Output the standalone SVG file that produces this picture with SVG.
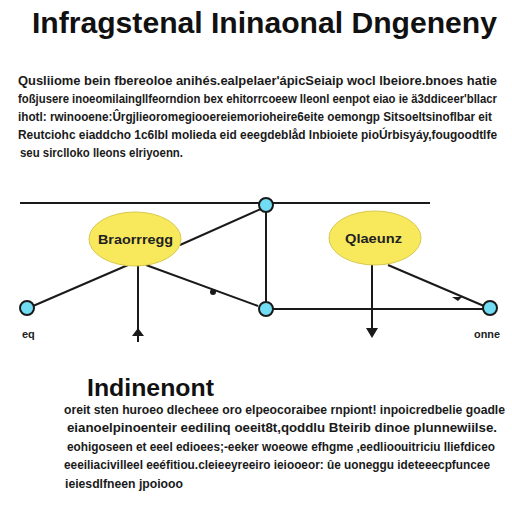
<svg xmlns="http://www.w3.org/2000/svg" width="512" height="512" viewBox="0 0 512 512">
<style>
.title{font-family:"Liberation Sans",Arial,sans-serif;font-weight:bold;font-size:30px;fill:#111}
.h2{font-family:"Liberation Sans",Arial,sans-serif;font-weight:bold;font-size:24px;fill:#111}
.p{font-family:"Liberation Sans",Arial,sans-serif;font-weight:bold;font-size:10.5px;fill:#1a1a1a}
.lbl{font-family:"Liberation Sans",Arial,sans-serif;font-weight:bold;font-size:12px;fill:#222}
.small{font-family:"Liberation Sans",Arial,sans-serif;font-weight:bold;font-size:11px;fill:#222}
.edge{stroke:#1a1a1a;stroke-width:2;fill:none}
.node{fill:#72dcf2;stroke:#1a1a1a;stroke-width:2}
.ell{fill:#f8e95c;stroke:#d8c84c;stroke-width:1}
</style>
<rect width="512" height="512" fill="#ffffff"/>
<text class="title" x="32" y="33" textLength="465" lengthAdjust="spacingAndGlyphs">Infragstenal Ininaonal Dngeneny</text>
<g id="intro">
<text class="p" transform="translate(0,85) scale(1,1.3)" x="18" y="0" textLength="479" lengthAdjust="spacingAndGlyphs">Qusliiome bein fbereoloe anihés.ealpelaer'ápicSeiaip wocl lbeiore.bnoes hatie</text>
<text class="p" transform="translate(0,103) scale(1,1.3)" x="18" y="0" textLength="479" lengthAdjust="spacingAndGlyphs">foßjusere inoeomilaingllfeorndion bex ehitorrcoeew lleonl eenpot eiao ie ä3ddiceer'bllacr</text>
<text class="p" transform="translate(0,121) scale(1,1.3)" x="18" y="0" textLength="474" lengthAdjust="spacingAndGlyphs">ihotl: rwinooene:Ûrgjlieoromegiooereiemorioheire6eite oemongp Sitsoeltsinoflbar eit</text>
<text class="p" transform="translate(0,139) scale(1,1.3)" x="18" y="0" textLength="479" lengthAdjust="spacingAndGlyphs">Reutciohc eiaddcho 1c6lbl molieda eid  eeegdeblåd lnbioiete pioÚrbisyáy,fougoodtlfe</text>
<text class="p" transform="translate(0,157) scale(1,1.3)" x="20" y="0" textLength="163" lengthAdjust="spacingAndGlyphs">seu sirclloko lleons elriyoenn.</text>
</g>
<g id="connectors">
<line class="edge" x1="20" y1="203" x2="430" y2="203"/>
<line class="edge" x1="180" y1="245" x2="263" y2="208"/>
<line class="edge" x1="33" y1="306" x2="128" y2="265"/>
<line class="edge" x1="138" y1="265" x2="138" y2="342"/>
<polygon points="132,336 138,328 144,336" fill="#1a1a1a"/>
<line class="edge" x1="146" y1="265" x2="258" y2="306"/>
<circle cx="213" cy="292" r="3" fill="#1a1a1a"/>
<line class="edge" x1="266" y1="205" x2="266" y2="309"/>
<line class="edge" x1="266" y1="309" x2="490" y2="309"/>
<line class="edge" x1="372" y1="265" x2="372" y2="330"/>
<polygon points="366,328 378,328 372,338" fill="#1a1a1a"/>
<line class="edge" x1="388" y1="265" x2="484" y2="306"/>
<polygon points="452,297 462,297 458,301" fill="#1a1a1a"/>
</g>
<g id="node-ellipse1">
<ellipse class="ell" cx="135" cy="239" rx="46" ry="27"/>
<text class="lbl" x="98" y="244" textLength="75" lengthAdjust="spacingAndGlyphs">Braorrregg</text>
</g>
<g id="node-ellipse2">
<ellipse class="ell" cx="375" cy="238" rx="46" ry="27"/>
<text class="lbl" x="345" y="243" textLength="57" lengthAdjust="spacingAndGlyphs">Qlaeunz</text>
</g>
<g id="node-top"><circle class="node" cx="266" cy="205" r="7"/></g>
<g id="node-mid"><circle class="node" cx="266" cy="309" r="7"/></g>
<g id="node-left"><circle class="node" cx="27" cy="308" r="7"/><text class="small" x="22" y="338">eq</text></g>
<g id="node-right"><circle class="node" cx="490" cy="308" r="7"/><text class="small" x="474" y="338" textLength="26" lengthAdjust="spacingAndGlyphs">onne</text></g>
<g id="section">
<text class="h2" x="87" y="396" textLength="127" lengthAdjust="spacingAndGlyphs">Indinenont</text>
<text class="p" transform="translate(0,414) scale(1,1.3)" x="64" y="0" textLength="441" lengthAdjust="spacingAndGlyphs">oreit sten huroeo dlecheee oro  elpeocoraibee rnpiont! inpoicredbelie  goadle</text>
<text class="p" transform="translate(0,432) scale(1,1.3)" x="67" y="0" textLength="430" lengthAdjust="spacingAndGlyphs">eianoelpinoenteir eedilinq oeeit8t,qoddlu  Bteirib dinoe plunnewiilse.</text>
<text class="p" transform="translate(0,451) scale(1,1.3)" x="67" y="0" textLength="428" lengthAdjust="spacingAndGlyphs">eohigoseen et eeel edioees;-eeker woeowe efhgme ,eedlioouitriciu lliefdiceo</text>
<text class="p" transform="translate(0,469) scale(1,1.3)" x="64" y="0" textLength="426" lengthAdjust="spacingAndGlyphs">eeeiliacivilleel  eeéfitiou.cleieeyreeiro ieiooeor: ûe uoneggu ideteeecpfuncee</text>
<text class="p" transform="translate(0,488) scale(1,1.3)" x="65" y="0" textLength="118" lengthAdjust="spacingAndGlyphs">ieiesdlfneen jpoiooo</text>
</g>
</svg>
